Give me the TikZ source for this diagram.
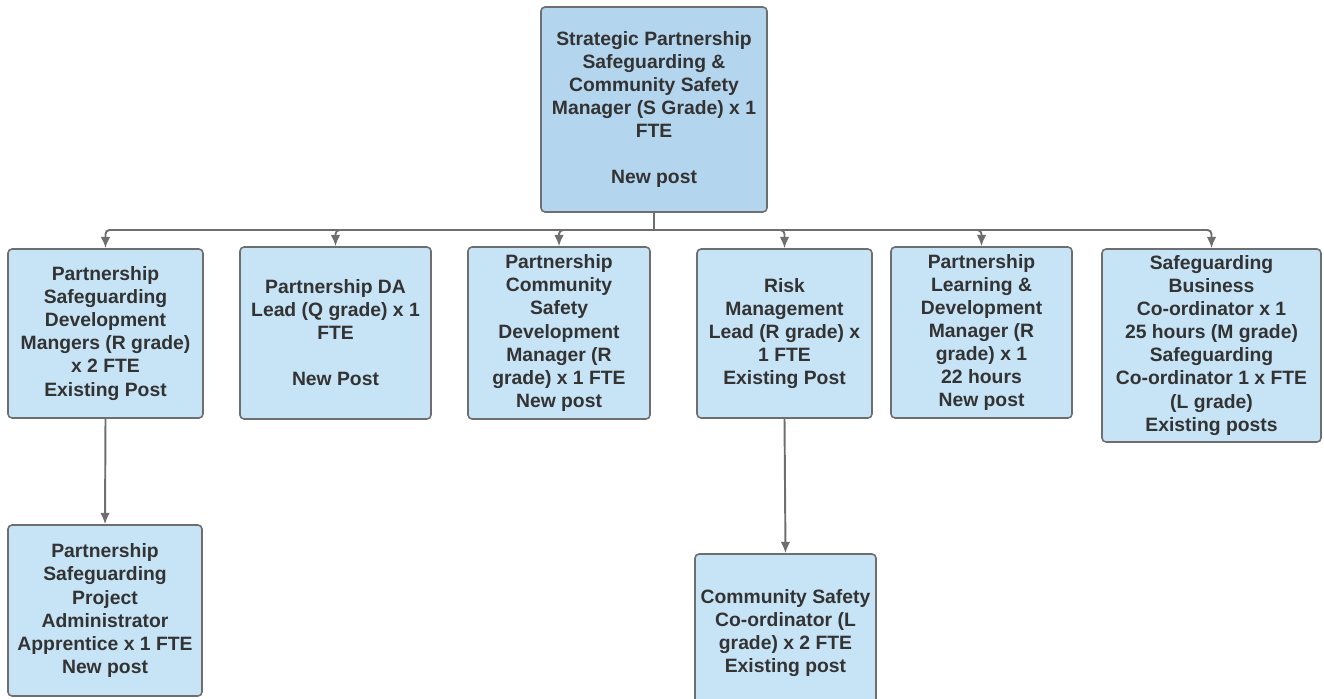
\documentclass[tikz,border=0pt]{standalone}
\usepackage{fontspec}
\setmainfont{Liberation Sans}
\usetikzlibrary{arrows.meta}

\definecolor{postfill}{HTML}{C6E4F6}
\definecolor{headfill}{HTML}{B4D5EE}
\definecolor{postline}{HTML}{6E6E6E}
\definecolor{posttext}{HTML}{333333}

\begin{document}
\begin{tikzpicture}[x=0.02cm,y=-0.02cm,
  post/.style={shape=rectangle,draw=postline,fill=postfill,rounded corners=0.08cm,
    align=center,line width=0.9pt,text=posttext,inner sep=0pt,
    font=\fontsize{11}{13.1}\selectfont\bfseries},
  link/.style={-{Latex[length=6.5pt,width=5.5pt]},draw=postline,line width=1.1pt,rounded corners=0.08cm}]
\useasboundingbox (0,0) rectangle (1324,698);

\node[post,fill=headfill,minimum width=4.52cm,minimum height=4.10cm] (0) at (654,109.5) {Strategic Partnership\\Safeguarding \&\\Community Safety\\Manager (S Grade) x 1\\FTE\\[13.1pt]New post};
\node[post,minimum width=3.90cm,minimum height=3.38cm] (1) at (105.5,333.5) {Partnership\\Safeguarding\\Development\\Mangers (R grade)\\x 2 FTE\\Existing Post};
\node[post,minimum width=3.82cm,minimum height=3.44cm] (2) at (335.5,333) {Partnership DA\\Lead (Q grade) x 1\\FTE\\[13.1pt]New Post};
\node[post,minimum width=3.64cm,minimum height=3.44cm] (3) at (559,333) {Partnership\\Community\\Safety\\Development\\Manager (R\\grade) x 1 FTE\\New post};
\node[post,minimum width=3.50cm,minimum height=3.38cm] (4) at (784.5,333.5) {Risk\\Management\\Lead (R grade) x\\1 FTE\\Existing Post};
\node[post,minimum width=3.62cm,minimum height=3.42cm] (5) at (981.5,332.5) {Partnership\\Learning \&\\Development\\Manager (R\\grade) x 1\\22 hours\\New post};
\node[post,minimum width=4.38cm,minimum height=3.86cm] (6) at (1211.5,345.5) {Safeguarding\\Business\\Co-ordinator x 1\\25 hours (M grade)\\Safeguarding\\Co-ordinator 1 x FTE\\(L grade)\\Existing posts};
\node[post,minimum width=3.88cm,minimum height=3.42cm] (7) at (105,610.5) {Partnership\\Safeguarding\\Project\\Administrator\\Apprentice x 1 FTE\\New post};
\node[post,minimum width=3.62cm,minimum height=3.16cm] (8) at (785.5,633) {Community Safety\\Co-ordinator (L\\grade) x 2 FTE\\Existing post};

\coordinate (bus) at (654,230);
\draw[draw=postline,line width=1.1pt] (0.south) -- (bus);
\path[link] (bus) -| (1.north);
\path[link] (bus) -| (2.north);
\path[link] (bus) -| (3.north);
\path[link] (bus) -| (4.north);
\path[link] (bus) -| (5.north);
\path[link] (bus) -| (6.north);
\path[link] (1.south) -- (7.north);
\path[link] (4.south) -- (8.north);
\end{tikzpicture}
\end{document}
